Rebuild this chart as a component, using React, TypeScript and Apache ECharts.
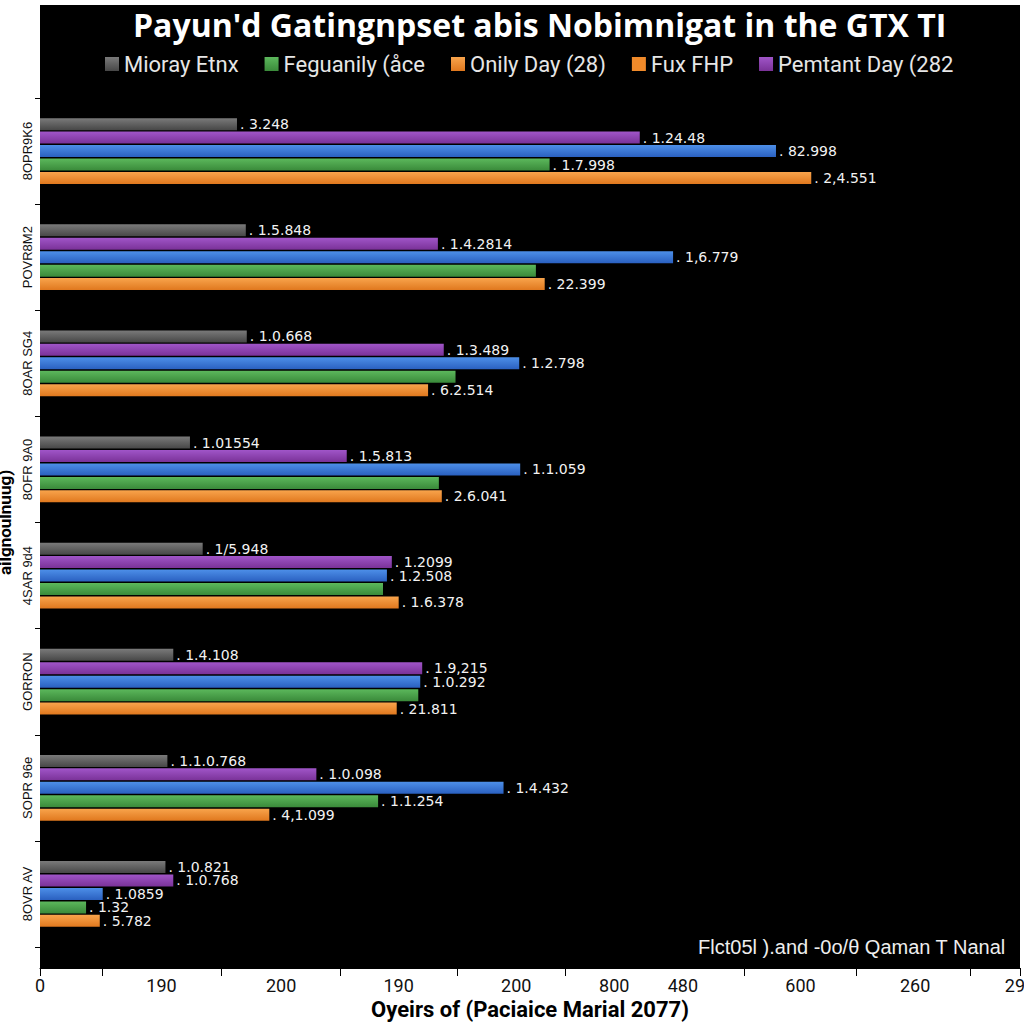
import React, { useEffect, useRef } from 'react';
import * as echarts from 'echarts';

const chartTitle = "Payun'd Gatingnpset abis Nobimnigat in the GTX TI";
const xAxisTitle = 'Oyeirs of (Paciaice Marial 2077)';
const yAxisTitle = 'ailgnoulnuug)';
const noteText = 'Flct05l ).and -0o/θ Qaman T Nanal';

const categories = ['8OPR9K6', 'POVR8M2', '8OAR SG4', '8OFR 9A0', '4SAR 9d4', 'GORRON', 'SOPR 96e', '8OVR AV'];

const grayValues = [20.1, 21.0, 21.1, 15.3, 16.6, 13.6, 13.0, 12.8];
const purpleValues = [61.2, 40.6, 41.2, 31.3, 35.9, 39.0, 28.2, 13.6];
const blueValues = [75.1, 64.6, 48.9, 49.0, 35.4, 38.8, 47.3, 6.4];
const greenValues = [52.0, 50.6, 42.4, 40.7, 35.0, 38.6, 34.5, 4.7];
const orangeValues = [78.7, 51.5, 39.6, 41.0, 36.6, 36.4, 23.4, 6.1];

const grayLabels = ['3.248', '1.5.848', '1.0.668', '1.01554', '1/5.948', '1.4.108', '1.1.0.768', '1.0.821'];
const purpleLabels = ['1.24.48', '1.4.2814', '1.3.489', '1.5.813', '1.2099', '1.9,215', '1.0.098', '1.0.768'];
const blueLabels = ['82.998', '1,6.779', '1.2.798', '1.1.059', '1.2.508', '1.0.292', '1.4.432', '1.0859'];
const greenLabels = ['1.7.998', '', '', '', '', '', '1.1.254', '1.32'];
const orangeLabels = ['2,4.551', '22.399', '6.2.514', '2.6.041', '1.6.378', '21.811', '4,1.099', '5.782'];

const xTickValues = [0, 12.4, 24.6, 36.6, 48.6, 58.6, 65.6, 77.6, 89.3, 100];
const xTickLabels = ['0', '190', '200', '190', '200', '800', '480', '600', '260', '292'];
const xMinorTicks = [0, 6.4, 18.5, 30.6, 42.6, 53.6, 71.9, 83.3, 94.9, 100];

export default function App() {
  const ref = useRef<HTMLDivElement>(null);
  useEffect(() => {
    const chart = echarts.init(ref.current!, null, { renderer: 'svg' });
    const grad = (a: string, b: string) =>
      new echarts.graphic.LinearGradient(0, 0, 0, 1, [
        { offset: 0, color: a },
        { offset: 1, color: b },
      ]);
    const mk = (name: string, values: number[], labels: string[], c: [string, string]) => ({
      type: 'bar',
      name,
      data: values,
      barWidth: 12,
      barGap: '12%',
      itemStyle: { color: grad(c[0], c[1]) },
      label: {
        show: true,
        position: 'right',
        distance: 3,
        color: '#f2f2f2',
        fontSize: 14,
        lineHeight: 12,
        fontFamily: 'DejaVu Sans',
        formatter: (p: any) => (labels[p.dataIndex] ? '. ' + labels[p.dataIndex] : ''),
      },
    });
    const narrow = '"Liberation Sans Narrow", Roboto, "Liberation Sans", sans-serif';
    chart.setOption({
      animation: false,
      backgroundColor: '#ffffff',
      title: {
        text: chartTitle,
        left: 128,
        top: 3,
        textStyle: { color: '#ffffff', fontSize: 32, fontWeight: 'bold', fontFamily: '"Open Sans", sans-serif' },
      },
      legend: {
        top: 48,
        left: 100,
        itemGap: 26,
        itemWidth: 14,
        itemHeight: 14,
        icon: 'rect',
        textStyle: { color: '#e6e6e6', fontSize: 22, fontFamily: narrow },
        data: [
          { name: 'Mioray Etnx' },
          { name: 'Feguanily (åce' },
          { name: 'Onily Day (28)' },
          { name: 'Fux FHP', itemStyle: { color: '#f08a2a' } },
          { name: 'Pemtant Day (282' },
        ],
      },
      graphic: [
        {
          type: 'rect',
          z: -10,
          silent: true,
          shape: { x: 40, y: 5, width: 980, height: 963 },
          style: { fill: '#000000' },
        },
        {
          type: 'text',
          right: 18,
          top: 937,
          z: 10,
          style: { text: noteText, fill: '#eeeeee', font: '20px "Liberation Sans", sans-serif' },
        },
      ],
      grid: { left: 40, right: 4, top: 98, bottom: 77, containLabel: false, outerBoundsMode: 'none' },
      xAxis: {
        type: 'value',
        min: 0,
        max: 100,
        offset: 21,
        axisLine: { show: true, lineStyle: { color: '#000' } },
        splitLine: { show: false },
        axisTick: { show: true, customValues: xMinorTicks, length: 8, lineStyle: { color: '#000' } },
        axisLabel: {
          customValues: xTickValues,
          formatter: (v: number) => {
            const i = xTickValues.findIndex((t) => Math.abs(t - v) < 0.01);
            return i >= 0 ? xTickLabels[i] : '';
          },
          color: '#111',
          fontSize: 18,
          fontFamily: narrow,
          margin: 8,
        },
        name: xAxisTitle,
        nameLocation: 'middle',
        nameGap: 28,
        nameTextStyle: { color: '#000', fontSize: 22, fontWeight: 'bold', fontFamily: narrow },
      },
      yAxis: {
        type: 'category',
        data: categories,
        inverse: true,
        axisLine: { show: true, lineStyle: { color: '#000' } },
        axisTick: { show: true, length: 5, lineStyle: { color: '#000' } },
        axisLabel: { rotate: 90, color: '#111', fontSize: 13, margin: 6, fontFamily: '"Liberation Sans", sans-serif' },
        name: yAxisTitle,
        nameLocation: 'middle',
        nameGap: 20,
        nameRotate: 90,
        nameTextStyle: { color: '#000', fontSize: 17, fontWeight: 'bold', fontFamily: narrow },
      },
      series: [
        mk('Mioray Etnx', grayValues, grayLabels, ['#7a7a7a', '#474747']),
        mk('Pemtant Day (282', purpleValues, purpleLabels, ['#a055c8', '#7a3298']),
        mk('Fux FHP', blueValues, blueLabels, ['#4d8fe8', '#2a60c0']),
        mk('Feguanily (åce', greenValues, greenLabels, ['#5cb85c', '#3a8a3a']),
        mk('Onily Day (28)', orangeValues, orangeLabels, ['#f8a44c', '#e0781e']),
      ],
    } as any);
    return () => chart.dispose();
  }, []);
  return <div ref={ref} style={{ position: 'fixed', left: 0, top: 0, width: 1024, height: 1024 }} />;
}
